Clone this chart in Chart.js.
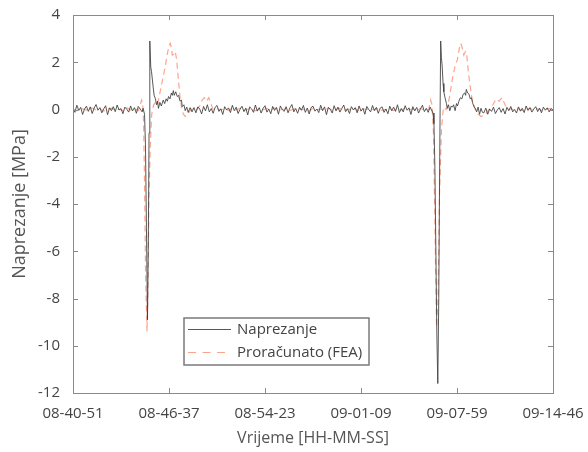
<!DOCTYPE html>
<html lang="hr">
<head>
  <meta charset="UTF-8">
  <title>Naprezanje vs FEA</title>
  <script src="https://cdn.jsdelivr.net/npm/chart.js"></script>
  <style>
    html, body { margin: 0; padding: 0; background: #fff; }
    #wrap { width: 588px; height: 452px; }
  </style>
</head>
<body>
  <div id="wrap"><canvas id="myChart"></canvas></div>

  <script>
    // tick labels on the time axis (one every 100 samples)
    const timeLabels = ['08-40-51', '08-46-37', '08-54-23', '09-01-09', '09-07-59', '09-14-46'];
    const yTicks = [4, 2, 0, -2, -4, -6, -8, -10, -12];
    const seriesNames = ['Naprezanje', 'Proračunato (FEA)'];

    // measured stress - quiet stretches (sample step 2)
    const blackQuietA = [0.05,-0.12,0.18,-0.04,0.09,-0.21,0.02,0.14,-0.08,0.11,-0.17,0.06,0.21,-0.03,0.08,-0.14,0.03,0.16,-0.22,0.07,-0.05,0.12,-0.09,0.19,-0.02,0.04,-0.18,0.1,0.01,-0.11,0.15,-0.06,0.08,-0.16,0.13,0.02,-0.1];
    const blackQuietB = [0.08,-0.14,0.11,0.02,-0.19,0.13,-0.06,0.2,-0.1,0.04,
      -0.16,0.09,0.17,-0.08,0.03,-0.21,0.12,-0.02,0.07,-0.13,
      0.18,-0.05,0.1,-0.17,0.01,0.14,-0.09,0.06,-0.23,0.11,
      0.03,-0.12,0.19,-0.07,0.08,-0.15,0.05,0.16,-0.11,0.02,
      -0.18,0.13,-0.04,0.09,-0.2,0.15,0.0,-0.08,0.12,-0.14,
      0.07,0.21,-0.1,0.04,-0.16,0.1,-0.03,0.17,-0.12,0.06,
      -0.19,0.08,0.14,-0.07,0.02,-0.13,0.18,-0.05,0.11,-0.22,
      0.09,0.01,-0.15,0.16,-0.06,0.1,-0.11,0.04,0.19,-0.09,
      0.03,-0.17,0.12,-0.02,0.08,-0.14,0.15,-0.07,0.05,-0.2,
      0.13,0.0,-0.1,0.17,-0.04,0.09,-0.16,0.06,0.11,-0.12,
      0.02,-0.18,0.14,-0.05,0.1,-0.08,0.2,-0.13,0.04,-0.1,
      0.16,-0.03,0.07,-0.21,0.12,-0.06,0.09,-0.15,0.03,0.18,
      -0.09,0.05,-0.12,0.1];
    const blackQuietC = [-0.14,0.06,-0.2,0.02,-0.08,0.1,-0.17,-0.02,0.08,-0.12,
      0.04,-0.19,0.09,-0.05,0.13,-0.1,0.0,-0.15,0.11,-0.07,
      0.05,-0.13,0.15,-0.04,0.08,-0.11,0.02,0.12,-0.09,0.06,
      -0.14,0.1,-0.03,0.07,-0.1,0.04,-0.02];

    // measured stress - the two crossings
    const blackEvent1X = [73,74.5,75.5,76.5,77.6,78.4,79.2,80,81,81.8,83.5,84.5,85.9,87,88,89,90.5,92,94,95.5,97,98.3,99.5,101,102.5,103.5,104.5,105.5,107,108.6,110,111.5,113,113.8,115.5,116.9,118.5,120,122,124];
    const blackEvent1Y = [0.05,-0.2,-1.5,-5.0,-8.9,-6.0,-1.0,2.9,1.8,1.6,0.95,0.6,0.45,0.2,0.35,0.05,0.3,0.15,0.4,0.25,0.45,0.35,0.55,0.45,0.7,0.6,0.8,0.6,0.75,0.55,0.6,0.35,0.4,0.12,0.2,-0.05,0.1,-0.12,0.08,-0.1];
    const blackEvent2X = [375,376,377,378,379,380,381,382,383,383.8,384.6,385.5,386.3,387.5,389,390,391.1,392.5,394,395.2,396.5,398,399.5,400.5,402,403.5,405,406.5,408,409,409.7,411,412.5,413.8,415,416.5,418,419,420.5,422,423.5,425,426.5];
    const blackEvent2Y = [-0.15,-0.6,-2.5,-6,-9.5,-11.6,-8,-2,2.9,2.2,1.8,1.1,0.75,0.5,0.25,0.05,0.2,-0.05,0.15,0.1,0.2,-0.05,0.25,0.15,0.35,0.5,0.45,0.65,0.7,0.6,0.85,0.7,0.65,0.45,0.5,0.25,0.1,0.05,-0.1,0.1,-0.2,0.05,-0.12];

    // FEA prediction - quiet stretches (sample step 4)
    const redQuietA = [0.03,-0.06,0.05,0.0,-0.04,0.07,-0.02,0.04,-0.07,0.02,0.06,-0.03,0.01,-0.05,0.08,-0.01,0.03];
    const redQuietB = [0.02,-0.04,0.05,-0.02,0.06,-0.05,0.01,0.04,-0.06,0.03,
      -0.01,0.05,-0.03,0.07,-0.04,0.0,0.04,-0.05,0.02,0.06,
      -0.02,0.03,-0.06,0.05,-0.01,0.02,-0.04,0.06,-0.03,0.01,
      0.05,-0.05,0.03,-0.02,0.04,-0.06,0.02,0.0,0.05,-0.03,
      0.06,-0.04,0.01,0.03,-0.05,0.04,-0.02,0.06,-0.01,0.02,
      -0.04,0.05,-0.03,0.01];
    const redQuietC = [-0.03,0.04,-0.05,0.02,0.05,-0.02,0.03,-0.04,0.01,0.04,-0.02];

    // FEA prediction - the two crossings
    const redEvent1X = [65,68,70,71.4,72.5,73.5,74.5,75.6,77.1,78,79,80.5,82,84,86,88,90,92,94,96,98,100,101.4,102.5,103.5,105,106.5,108,109.5,111.3,113,115,117,119,121,123,126,129,132,134.5,137,139,141.5,143.5,146,149,153];
    const redEvent1Y = [0.02,-0.05,0.15,0.4,0.3,-0.5,-3,-7,-9.4,-7.5,-4,-1.5,-0.2,0.2,0.3,0.2,0.6,1.0,1.4,1.8,2.3,2.7,2.8,2.6,2.3,2.35,2.45,2.1,1.4,0.6,0.1,-0.2,-0.3,-0.25,-0.1,0.0,0.05,0.0,0.15,0.4,0.5,0.35,0.5,0.25,0.0,0.05,-0.02];
    const redEvent2X = [370.5,372.5,374,375.5,377.1,378.7,380.3,381.8,383.9,385.9,389,392.1,395.2,398.3,400.4,402.5,404,405.5,407.1,408.7,410.2,411.8,413.8,415.9,419,422.1,425.2,429.3,433.4,437.5,440.7,443.8,447,450,453.1,456.5];
    const redEvent2Y = [0,0.4,0.2,-1,-5,-9.2,-8,-3.5,-0.8,0.1,0.0,0.5,1.3,1.9,2.1,2.6,2.8,2.6,2.3,2.45,2.3,1.6,0.95,0.4,0.0,-0.2,-0.3,-0.2,0.0,0.2,0.45,0.35,0.5,0.2,0.0,0.03];

    // glue quiet stretches and events into {x,y} points
    function quiet(vals, start, step) {
      return vals.map((v, i) => ({ x: start + i * step, y: v }));
    }
    function pairs(xs, ys) {
      return xs.map((x, i) => ({ x: x, y: ys[i] }));
    }
    const blackPoints = [].concat(
      quiet(blackQuietA, 0, 2), pairs(blackEvent1X, blackEvent1Y),
      quiet(blackQuietB, 126, 2), pairs(blackEvent2X, blackEvent2Y),
      quiet(blackQuietC, 428, 2));
    const redPoints = [].concat(
      quiet(redQuietA, 0, 4), pairs(redEvent1X, redEvent1Y),
      quiet(redQuietB, 158, 4), pairs(redEvent2X, redEvent2Y),
      quiet(redQuietC, 460, 4));

    const FONT = 'Open Sans';
    const AXIS = '#8a8a8a';

    // box around the plot + inward tick marks (matlab look)
    const frame = {
      id: 'frame',
      afterDatasetsDraw(chart) {
        const { ctx, chartArea: a, scales } = chart;
        ctx.save();
        ctx.strokeStyle = AXIS;
        ctx.lineWidth = 1;
        ctx.strokeRect(a.left + 0.5, a.top + 0.5, a.right - a.left, a.bottom - a.top);
        ctx.beginPath();
        scales.x.ticks.forEach(t => {
          const px = Math.round(scales.x.getPixelForValue(t.value)) + 0.5;
          ctx.moveTo(px, a.bottom); ctx.lineTo(px, a.bottom - 5);
          ctx.moveTo(px, a.top); ctx.lineTo(px, a.top + 5);
        });
        scales.y.ticks.forEach(t => {
          const py = Math.round(scales.y.getPixelForValue(t.value)) + 0.5;
          ctx.moveTo(a.left, py); ctx.lineTo(a.left + 5, py);
          ctx.moveTo(a.right, py); ctx.lineTo(a.right - 5, py);
        });
        ctx.stroke();
        ctx.restore();
      }
    };

    // legend box inside the plot, lower middle
    const boxLegend = {
      id: 'boxLegend',
      afterDraw(chart) {
        const { ctx } = chart;
        const x = 184, y = 318, w = 185, h = 47;
        ctx.save();
        ctx.fillStyle = '#fff';
        ctx.fillRect(x, y, w, h);
        ctx.strokeStyle = '#7a7a7a';
        ctx.lineWidth = 1.5;
        ctx.strokeRect(x, y, w, h);
        ctx.font = '15px "' + FONT + '"';
        ctx.textBaseline = 'middle';
        chart.data.datasets.forEach((ds, i) => {
          const ly = y + 11.5 + i * 23;
          ctx.strokeStyle = ds.borderColor;
          ctx.lineWidth = 1.2;
          ctx.setLineDash(ds.borderDash ? [8, 6.5] : []);
          ctx.beginPath();
          ctx.moveTo(x + 4, ly); ctx.lineTo(x + 47, ly);
          ctx.stroke();
          ctx.setLineDash([]);
          ctx.fillStyle = '#444';
          ctx.fillText(ds.label, x + 53, ly);
        });
        ctx.restore();
      }
    };

    const ctx = document.getElementById('myChart').getContext('2d');
    const myChart = new Chart(ctx, {
      type: 'line',
      data: {
        datasets: [
          {
            label: seriesNames[0],
            data: blackPoints,
            borderColor: 'rgba(60, 60, 60, 0.85)',
            borderWidth: 1,
            pointRadius: 0,
            tension: 0,
          },
          {
            label: seriesNames[1],
            data: redPoints,
            borderColor: 'rgba(252, 160, 135, 0.95)',
            borderWidth: 1.2,
            borderDash: [6, 4],
            pointRadius: 0,
            tension: 0,
          },
        ],
      },
      options: {
        responsive: true,
        maintainAspectRatio: false,
        animation: false,
        layout: { padding: { top: 15, right: 35, left: 0, bottom: 0 } },
        plugins: { legend: { display: false }, tooltip: { enabled: false } },
        scales: {
          x: {
            type: 'linear',
            min: 0,
            max: 500,
            grid: { display: false },
            border: { display: false },
            ticks: {
              stepSize: 100,
              autoSkip: false,
              maxRotation: 0,
              padding: 4,
              color: '#444',
              font: { family: FONT, size: 15 },
              callback: v => timeLabels[v / 100],
            },
            title: {
              display: true,
              text: 'Vrijeme [HH-MM-SS]',
              color: '#555',
              font: { family: FONT, size: 16 },
              padding: { top: 0, bottom: 4 },
            },
            afterFit: s => { s.height = 59; },
          },
          y: {
            min: -12,
            max: 4,
            grid: { display: false },
            border: { display: false },
            afterBuildTicks: s => { s.ticks = yTicks.map(v => ({ value: v })); },
            ticks: {
              padding: 5,
              color: '#444',
              font: { family: FONT, size: 15 },
            },
            title: {
              display: true,
              text: 'Naprezanje [MPa]',
              color: '#555',
              font: { family: FONT, size: 18 },
              padding: { top: 9, bottom: 0 },
            },
            afterFit: s => { s.width = 73; },
          },
        },
      },
      plugins: [frame, boxLegend],
    });
  </script>
</body>
</html>
